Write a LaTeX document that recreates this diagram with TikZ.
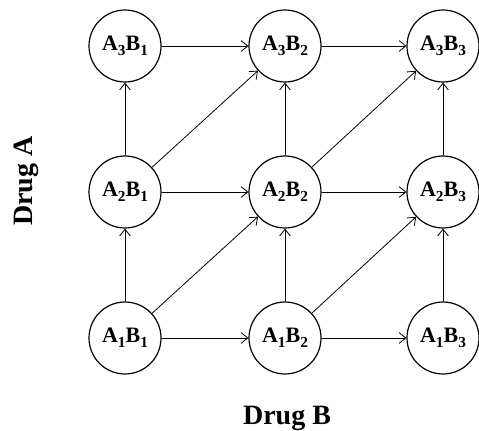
\documentclass[tikz,border=0pt]{standalone}
\usepackage{fontspec}
\setmainfont{Liberation Serif}
\usetikzlibrary{arrows.meta}

\tikzset{
  dose/.style={draw, circle, line width=0.9pt, minimum size=54pt, inner sep=0pt,
    font=\fontsize{16.5}{18}\selectfont\bfseries},
  axislabel/.style={font=\fontsize{21}{24}\selectfont\bfseries, inner sep=0pt, anchor=base},
  step arrow/.style={line width=0.6pt, -{Straight Barb[length=5pt,width=8pt]}}
}
\newcommand{\sub}[1]{\raisebox{-0.5ex}{\fontsize{11.5}{12}\selectfont #1}}
\newcommand{\dd}[2]{A\sub{#1}B\sub{#2}}

\begin{document}
\begin{tikzpicture}[x=0.75pt,y=-0.75pt]
        \useasboundingbox (0,0) rectangle (479,431);
        % kringir
        \node [dose] (a3b1) at (125,46) {\dd{3}{1}};
        \node [dose] (a3b2) at (285,46) {\dd{3}{2}};
        \node [dose] (a3b3) at (443,46) {\dd{3}{3}};
        \node [dose] (a2b1) at (125,192) {\dd{2}{1}};
        \node [dose] (a2b2) at (285,192) {\dd{2}{2}};
        \node [dose] (a2b3) at (443,192) {\dd{2}{3}};
        \node [dose] (a1b1) at (125,338) {\dd{1}{1}};
        \node [dose] (a1b2) at (285,338) {\dd{1}{2}};
        \node [dose] (a1b3) at (443,338) {\dd{1}{3}};
        % lárétt
        \draw [step arrow] (a3b1) -- (a3b2);
        \draw [step arrow] (a3b2) -- (a3b3);
        \draw [step arrow] (a2b1) -- (a2b2);
        \draw [step arrow] (a2b2) -- (a2b3);
        \draw [step arrow] (a1b1) -- (a1b2);
        \draw [step arrow] (a1b2) -- (a1b3);
        % lóðrétt
        \draw [step arrow] (a1b1) -- (a2b1);
        \draw [step arrow] (a2b1) -- (a3b1);
        \draw [step arrow] (a1b2) -- (a2b2);
        \draw [step arrow] (a2b2) -- (a3b2);
        \draw [step arrow] (a1b3) -- (a2b3);
        \draw [step arrow] (a2b3) -- (a3b3);
        % ská
        \draw [step arrow] (a1b1) -- (a2b2);
        \draw [step arrow] (a2b1) -- (a3b2);
        \draw [step arrow] (a1b2) -- (a2b3);
        \draw [step arrow] (a2b2) -- (a3b3);
        % ásar
        \node [axislabel, rotate=90] (druga) at (32.5,181) {Drug A};
        \node [axislabel] (drugb) at (287,424) {Drug B};
    \end{tikzpicture}
\end{document}
